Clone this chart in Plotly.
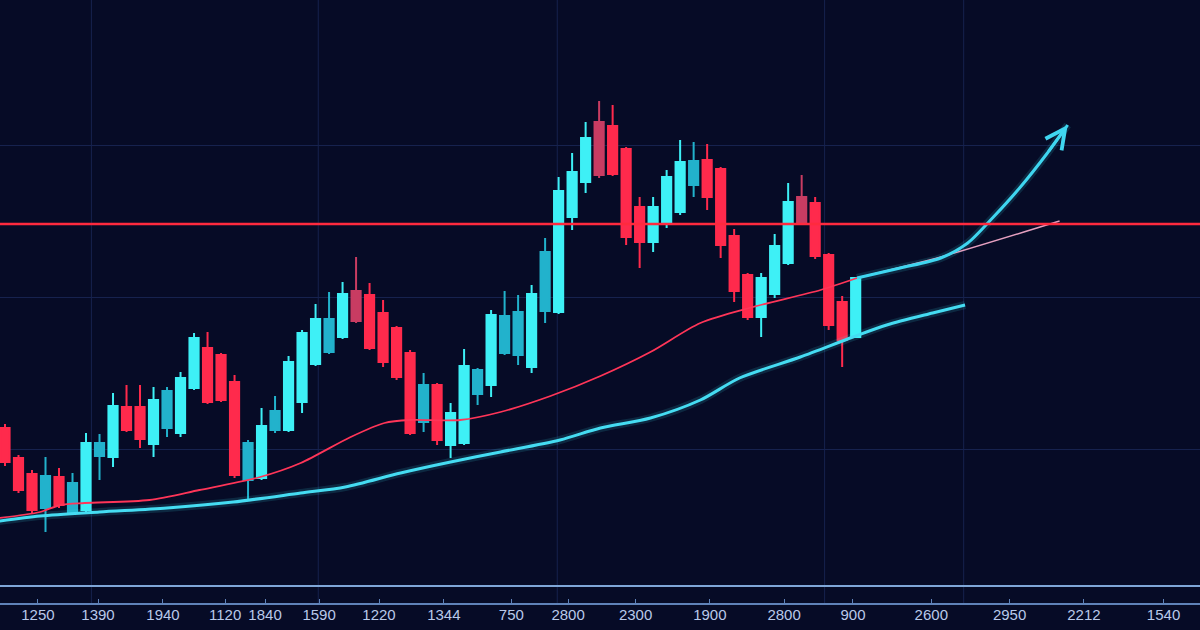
import plotly.graph_objects as go

# ---------------- data (arbitrary price units; x = session index) ----------------
opens  = [172, 142, 126, 92, 123, 87, 90, 144, 143, 193, 193, 156, 172, 167, 212, 252,
          245, 218, 120, 122, 170, 170, 198, 236, 248, 263, 309, 305, 287, 272, 247, 178,
          215, 155, 157, 206, 215, 247, 245, 233, 289, 288, 383, 418, 478, 474, 451, 393,
          358, 377, 388, 415, 440, 431, 364, 325, 283, 306, 337, 403, 397, 345, 298, 263]
highs  = [176, 145, 130, 143, 132, 127, 167, 166, 207, 215, 215, 213, 213, 228, 267, 268,
          247, 225, 160, 192, 204, 244, 270, 296, 308, 318, 343, 317, 300, 274, 250, 227,
          217, 197, 251, 232, 290, 309, 305, 315, 362, 423, 447, 478, 499, 495, 453, 403,
          403, 430, 460, 458, 456, 433, 371, 327, 327, 366, 417, 425, 403, 347, 304, 322]
lows   = [134, 107, 87, 68, 92, 85, 88, 120, 133, 168, 152, 143, 163, 163, 210, 196,
          198, 122, 100, 120, 167, 168, 187, 234, 246, 261, 277, 250, 233, 220, 165, 168,
          155, 142, 155, 195, 203, 245, 235, 227, 277, 286, 370, 407, 422, 424, 355, 332,
          348, 372, 385, 403, 390, 342, 298, 280, 263, 302, 335, 375, 341, 270, 233, 263]
closes = [138, 110, 90, 124, 95, 117, 157, 157, 194, 170, 161, 200, 209, 222, 262, 198,
          200, 125, 157, 174, 189, 238, 267, 281, 281, 306, 279, 252, 238, 223, 167, 215,
          160, 187, 234, 230, 285, 284, 288, 306, 348, 409, 428, 462, 425, 426, 363, 358,
          393, 423, 438, 439, 403, 355, 309, 283, 322, 354, 398, 377, 344, 275, 260, 322]

# slow moving average (red), control points
ma_red_x = [-0.4, 2.6, 4.1, 5.9, 10.7, 14.4, 18.9, 21.9, 25.6, 28.1, 30.0, 33.7, 36.7,
            40.4, 44.1, 47.8, 51.5, 55.4, 60.4, 63.1]
ma_red_y = [82, 88, 95, 97, 100, 110, 123, 137, 163, 177, 180, 180, 188,
            204, 224, 248, 277, 293, 310, 322]
# projected extension of the red average
ma_ext_x = [63.1, 69.3, 78.1]
ma_ext_y = [322, 343, 379]

# fast moving average (cyan)
ma_cyan_x = [-0.4, 2.6, 7.0, 12.0, 16.9, 21.9, 25.2, 29.3, 33.0, 36.7, 41.1, 44.1, 47.8,
             51.5, 54.4, 58.9, 62.8, 65.3, 68.7, 71.1]
ma_cyan_y = [79, 84, 88, 92, 98, 107, 113, 127, 138, 148, 160, 172, 182,
             200, 222, 243, 263, 275, 287, 295]

# projected breakout path
arrow_x = [63.1, 66.3, 69.3, 71.3, 73.2, 75.2, 77.2, 78.7]
arrow_y = [322, 332, 342, 357, 383, 413, 447, 475]

resistance_level = 376

tick_labels = ["1250", "1390", "1940", "1120", "1840", "1590", "1220", "1344", "750",
               "2800", "2300", "1900", "2800", "900", "2600", "2950", "2212", "1540"]

# ---------------- styling ----------------
BG = "#060b26"
CYAN = "#3ef0f6"
TEAL = "#22b2cc"
RED = "#ff2a4c"
MUTED_RED = "#c83c62"
tick_pos = [2.44, 6.89, 11.7, 16.3, 19.26, 23.26, 27.7, 32.5, 37.5, 41.7, 46.7, 52.2,
            57.7, 62.8, 68.6, 74.4, 79.9, 85.8]
dim_up = {3, 5, 7, 12, 18, 20, 24, 31, 35, 37, 38, 40, 51}
muted_down = {26, 44, 59}
vgrid = [6.4, 23.2, 40.9, 60.7, 71.0]
hgrid = [151, 303, 455]

n = len(opens)
idx = list(range(n))


def subset(cond):
    sel = [i for i in idx if cond(i)]
    return dict(x=sel,
                open=[opens[i] for i in sel], high=[highs[i] for i in sel],
                low=[lows[i] for i in sel], close=[closes[i] for i in sel])


groups = [
    (lambda i: closes[i] >= opens[i] and i not in dim_up, CYAN),
    (lambda i: closes[i] >= opens[i] and i in dim_up, TEAL),
    (lambda i: closes[i] < opens[i] and i not in muted_down, RED),
    (lambda i: closes[i] < opens[i] and i in muted_down, MUTED_RED),
]

fig = go.Figure()

# glow underlays
fig.add_trace(go.Scatter(x=ma_cyan_x, y=ma_cyan_y, mode="lines",
                         line=dict(color=CYAN, width=8, shape="spline", smoothing=0.8),
                         opacity=0.13, hoverinfo="skip", showlegend=False))
fig.add_trace(go.Scatter(x=arrow_x, y=arrow_y, mode="lines",
                         line=dict(color=CYAN, width=8, shape="spline", smoothing=0.8),
                         opacity=0.13, hoverinfo="skip", showlegend=False))

for cond, col in groups:
    d = subset(cond)
    fig.add_trace(go.Candlestick(
        **d,
        increasing=dict(line=dict(color=col, width=2), fillcolor=col),
        decreasing=dict(line=dict(color=col, width=2), fillcolor=col),
        whiskerwidth=0, showlegend=False, hoverinfo="skip"))

fig.add_trace(go.Scatter(x=ma_red_x, y=ma_red_y, mode="lines",
                         line=dict(color="#ff3558", width=1.8, shape="spline", smoothing=0.8),
                         showlegend=False))
fig.add_trace(go.Scatter(x=ma_ext_x, y=ma_ext_y, mode="lines",
                         line=dict(color="#e6a0c0", width=1.5, shape="spline", smoothing=0.6),
                         showlegend=False))
fig.add_trace(go.Scatter(x=ma_cyan_x, y=ma_cyan_y, mode="lines",
                         line=dict(color="#45dcf2", width=3, shape="spline", smoothing=0.8),
                         showlegend=False))
fig.add_trace(go.Scatter(x=arrow_x, y=arrow_y, mode="lines",
                         line=dict(color="#3fd6f0", width=3, shape="spline", smoothing=0.8),
                         showlegend=False))

fig.add_annotation(x=arrow_x[-1], y=arrow_y[-1], ax=arrow_x[-2], ay=arrow_y[-2],
                   xref="x", yref="y", axref="x", ayref="y", text="",
                   showarrow=True, arrowhead=5, arrowsize=1.3, arrowwidth=3,
                   arrowcolor="#3fd6f0", standoff=0)

# resistance line
fig.add_shape(type="line", xref="paper", x0=0, x1=1, y0=resistance_level,
              y1=resistance_level, yref="y", line=dict(color="#ff2a3e", width=2.5))
# bottom baseline
fig.add_shape(type="line", xref="paper", x0=0, x1=1, yref="y", y0=14, y1=14,
              line=dict(color="#7fa6d8", width=2))

for g in vgrid:
    fig.add_shape(type="line", xref="x", x0=g, x1=g, yref="paper", y0=0, y1=1,
                  line=dict(color="#16224e", width=1), layer="below")

fig.update_layout(
    width=1200, height=630,
    margin=dict(l=0, r=0, t=0, b=27),
    paper_bgcolor=BG, plot_bgcolor=BG,
    boxgap=0.2, boxgroupgap=0.15,
    showlegend=False,
    xaxis=dict(range=[-0.37, 88.5], rangeslider=dict(visible=False),
               tickvals=tick_pos, ticktext=tick_labels, showgrid=False,
               zeroline=False, showline=True, linecolor="#5f82b8", linewidth=1.5,
               ticks="inside", ticklen=4, tickcolor="#5f82b8", ticklabelstandoff=-3,
               tickfont=dict(family="Liberation Sans, Arial", size=15, color="#b9c9ea")),
    yaxis=dict(range=[-3, 600], tickvals=hgrid, showticklabels=False,
               showgrid=True, gridcolor="#16224e", gridwidth=1, zeroline=False,
               fixedrange=True),
)

fig.write_html(
    "out.html",
    config={"displayModeBar": False, "staticPlot": True},
    post_script=("document.body.style.margin='0';"
                 "document.body.style.padding='0';"
                 "document.body.style.background='#060b26';"
                 "document.body.style.overflow='hidden';"),
)
